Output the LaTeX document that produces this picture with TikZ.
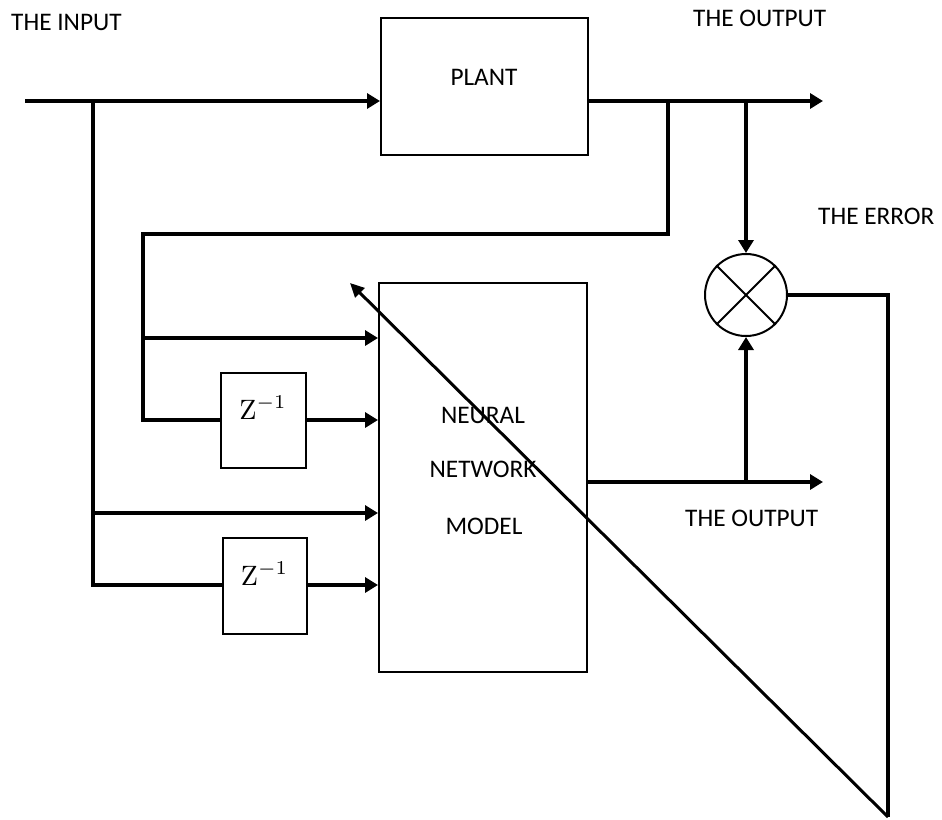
\documentclass[tikz,border=0pt]{standalone}
\usepackage[no-math]{fontspec}
\setmainfont{Carlito}
\usetikzlibrary{arrows.meta}
\begin{document}
\begin{tikzpicture}[x=1pt,y=-1pt,
  box/.style={draw, line width=2pt, inner sep=0pt, minimum width=#1},
  sig/.style={line width=4.5pt, -{Triangle[length=13pt,width=15pt]}, line join=miter},
  wire/.style={line width=4.5pt, line join=miter},
  diagarrow/.style={line width=3pt, -{Triangle[length=14pt,width=13pt]}},
  lbl/.style={font=\fontsize{25.3}{29}\selectfont, inner sep=0pt, anchor=base},
  zlbl/.style={inner sep=0pt, anchor=base}]
\useasboundingbox (0,0) rectangle (942,819);
% boxes
\node[box=207pt, minimum height=137pt] (plant) at (484.5,86.5) {};
\node[box=208pt, minimum height=389pt] (nn) at (483,477.5) {};
\node[box=85pt, minimum height=95pt] (z1) at (263.5,420.5) {};
\node[box=84pt, minimum height=96pt] (z2) at (265,586) {};
\node[draw, circle, line width=2pt, minimum size=82pt, inner sep=0pt] (sum) at (746,295) {};
\draw[line width=2pt] (sum.north east) -- (sum.south west) (sum.north west) -- (sum.south east);
% texts
\node[lbl, anchor=base west] (tin) at (11,30) {THE INPUT};
\node[lbl, anchor=base west] (tout1) at (693,27) {THE OUTPUT};
\node[lbl, anchor=base west] (terr) at (818,224) {THE ERROR};
\node[lbl, anchor=base west] (tout2) at (685,526) {THE OUTPUT};
\node[lbl] (tplant) at (484,85) {PLANT};
\node[lbl] (tn1) at (483,423) {NEURAL};
\node[lbl] (tn2) at (483,477) {NETWORK};
\node[lbl] (tn3) at (484,534) {MODEL};
\node[zlbl] (tz1) at (263,419) {\scalebox{2.8}{$\mathrm{Z}^{-1}$}};
\node[zlbl] (tz2) at (264.5,585) {\scalebox{2.8}{$\mathrm{Z}^{-1}$}};
% coordinates
\coordinate (inL) at (25,101);
\coordinate (j1) at (93,101);
\coordinate (outR) at (823,101);
\coordinate (j2) at (668,101);
\coordinate (j3) at (746,101);
\coordinate (c1) at (668,234);
\coordinate (c2) at (143,234);
\coordinate (c3) at (143,420);
\coordinate (j4) at (143,338);
\coordinate (j5) at (93,513);
\coordinate (c4) at (93,585);
\coordinate (nnOut) at (823,482);
\coordinate (j6) at (746,482);
\coordinate (e1) at (888,295);
\coordinate (e2) at (888,817);
\coordinate (tip) at (350,283);
% connectors
\draw[sig] (inL) -- (plant.west |- inL);
\draw[sig] (plant.east |- inL) -- (outR);
\draw[wire] (j2) -- (c1) -- (c2) -- (c3) -- (z1.west |- c3);
\draw[sig] (j4) -- (nn.west |- j4);
\draw[sig] (z1.east |- c3) -- (nn.west |- c3);
\draw[wire] (j1) -- (c4) -- (z2.west |- c4);
\draw[sig] (j5) -- (nn.west |- j5);
\draw[sig] (z2.east |- c4) -- (nn.west |- c4);
\draw[sig] (j3) -- (sum.north);
\draw[sig] (nn.east |- j6) -- (nnOut);
\draw[sig] (j6) -- (sum.south);
\draw[wire] (sum.east) -- (e1) -- (e2);
\draw[diagarrow] (e2) -- (tip);
\end{tikzpicture}
\end{document}
